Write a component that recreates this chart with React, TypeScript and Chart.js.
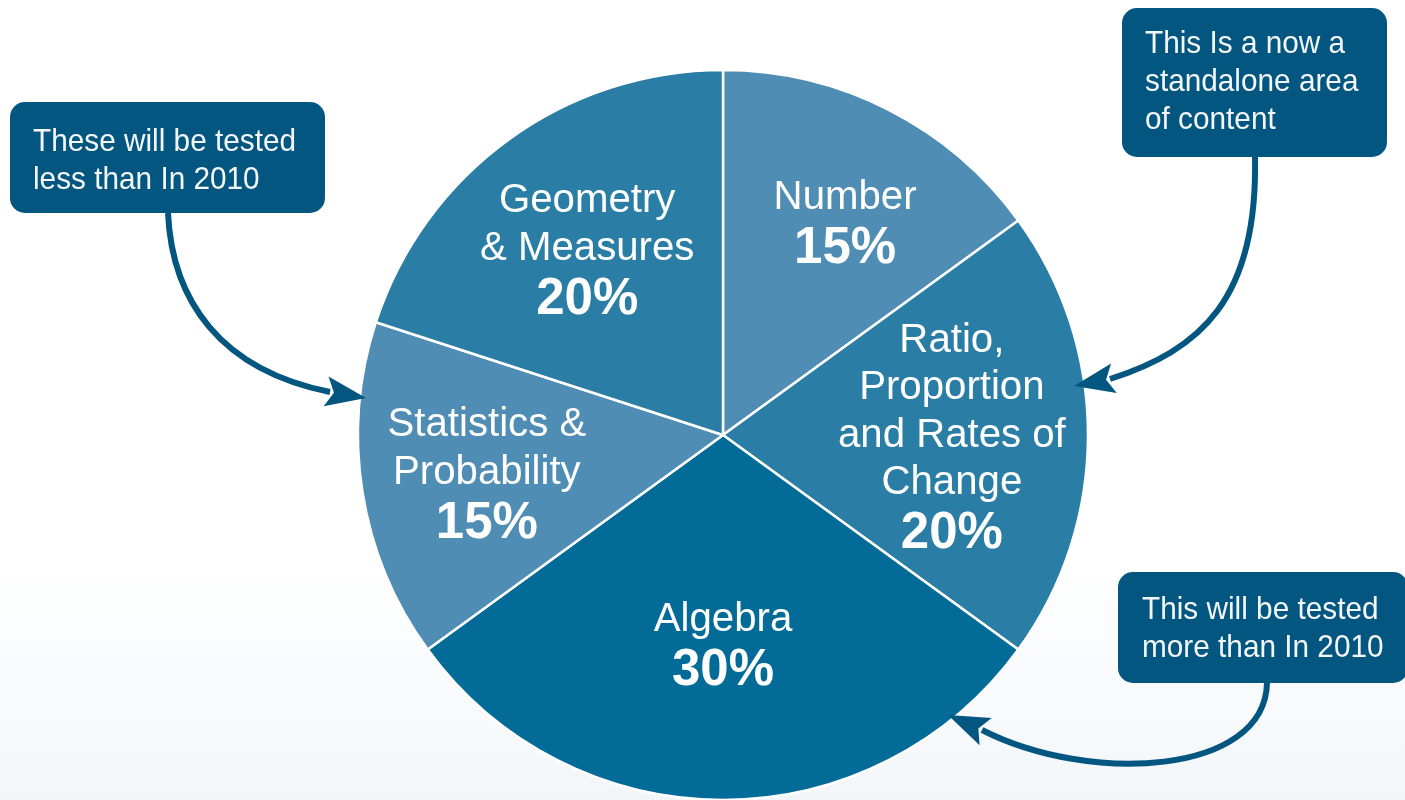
import React, { useEffect, useRef } from "react";
import { Chart, registerables } from "chart.js";

Chart.register(...registerables);

// ---- data ----
const categories = [
  "Number",
  "Ratio, Proportion and Rates of Change",
  "Algebra",
  "Statistics & Probability",
  "Geometry & Measures",
];
const labelLines = [
  ["Number"],
  ["Ratio,", "Proportion", "and Rates of", "Change"],
  ["Algebra"],
  ["Statistics &", "Probability"],
  ["Geometry", "& Measures"],
];
const shares = [15, 20, 30, 15, 20];
const sliceColors = ["#4f8db4", "#2a7ea5", "#036b97", "#4f8db4", "#2a7ea5"];
const calloutTexts = [
  ["These will be tested", "less than In 2010"],
  ["This Is a now a", "standalone area", "of content"],
  ["This will be tested", "more than In 2010"],
];

// ---- layout (styling only) ----
const labelRadius = [0.675, 0.627, 0.57, 0.655, 0.633];
const labelAngleShift = [2.7, 0, 0, 0, 0];
const boxColor = "#03567f";
const calloutBoxes = [
  { x: 10, y: 102, w: 315, h: 111, tx: 33, ty: 151 },
  { x: 1122, y: 8, w: 265, h: 149, tx: 1145, ty: 53 },
  { x: 1118, y: 572, w: 290, h: 111, tx: 1142, ty: 619 },
];
const arrowPaths = [
  { p: [168, 213, 172, 300, 220, 370, 330, 392], tip: [366, 398] },
  { p: [1255, 157, 1258, 300, 1200, 350, 1110, 379], tip: [1074, 386] },
  { p: [1267, 683, 1265, 775, 1090, 785, 982, 730], tip: [948, 715] },
];

function roundRect(ctx: CanvasRenderingContext2D, x: number, y: number, w: number, h: number, r: number) {
  ctx.beginPath();
  ctx.moveTo(x + r, y);
  ctx.lineTo(x + w - r, y);
  ctx.arcTo(x + w, y, x + w, y + r, r);
  ctx.lineTo(x + w, y + h - r);
  ctx.arcTo(x + w, y + h, x + w - r, y + h, r);
  ctx.lineTo(x + r, y + h);
  ctx.arcTo(x, y + h, x, y + h - r, r);
  ctx.lineTo(x, y + r);
  ctx.arcTo(x, y, x + r, y, r);
  ctx.closePath();
}

function drawText(ctx: CanvasRenderingContext2D, text: string, x: number, y: number, font: string, sx: number, align: CanvasTextAlign) {
  ctx.save();
  ctx.translate(x, y);
  ctx.scale(sx, 1);
  ctx.font = font;
  ctx.textAlign = align;
  ctx.textBaseline = "alphabetic";
  ctx.fillText(text, 0, 0);
  ctx.restore();
}

const decorPlugin = {
  id: "decor",
  beforeDraw(chart: any) {
    const ctx: CanvasRenderingContext2D = chart.ctx;
    const g = ctx.createLinearGradient(0, 560, 0, chart.height);
    g.addColorStop(0, "#ffffff");
    g.addColorStop(1, "#f3f6f9");
    ctx.save();
    ctx.fillStyle = g;
    ctx.fillRect(0, 0, chart.width, chart.height);
    ctx.restore();
  },
  afterDatasetsDraw(chart: any) {
    const ctx: CanvasRenderingContext2D = chart.ctx;
    const meta = chart.getDatasetMeta(0);
    const FONT = '"Liberation Sans", Arial, sans-serif';
    ctx.save();
    ctx.fillStyle = "#ffffff";
    meta.data.forEach((arc: any, i: number) => {
      const { x, y, startAngle, endAngle, outerRadius } = arc.getProps(
        ["x", "y", "startAngle", "endAngle", "outerRadius"],
        true
      );
      const mid = (startAngle + endAngle) / 2 + (labelAngleShift[i] * Math.PI) / 180;
      const r = outerRadius * labelRadius[i];
      const cx = x + Math.cos(mid) * r;
      const cy = y + Math.sin(mid) * r;
      const lines = labelLines[i];
      const lh = 47.5;
      const pctGap = 54;
      const cap = 29.5;
      const total = lh * (lines.length - 1) + pctGap;
      const top = cy - (cap + total) / 2;
      let b = top + cap;
      lines.forEach((ln, k) => {
        drawText(ctx, ln, cx, b, `41px ${FONT}`, 0.98, "center");
        if (k < lines.length - 1) b += lh;
      });
      b += pctGap;
      drawText(ctx, `${shares[i]}%`, cx, b, `bold 51px ${FONT}`, 1.0, "center");
    });

    // arrows
    ctx.strokeStyle = boxColor;
    ctx.fillStyle = boxColor;
    ctx.lineWidth = 6;
    ctx.lineCap = "butt";
    arrowPaths.forEach(({ p, tip }) => {
      ctx.beginPath();
      ctx.moveTo(p[0], p[1]);
      ctx.bezierCurveTo(p[2], p[3], p[4], p[5], p[6], p[7]);
      ctx.stroke();
      const bx = p[6], by = p[7];
      const dx = tip[0] - bx, dy = tip[1] - by;
      const len = Math.hypot(dx, dy);
      const nx = -dy / len, ny = dx / len;
      const hw = 15;
      ctx.beginPath();
      ctx.moveTo(tip[0], tip[1]);
      ctx.lineTo(bx + nx * hw - (dx / len) * 4, by + ny * hw - (dy / len) * 4);
      ctx.lineTo(bx + (dx / len) * 4, by + (dy / len) * 4);
      ctx.lineTo(bx - nx * hw - (dx / len) * 4, by - ny * hw - (dy / len) * 4);
      ctx.closePath();
      ctx.fill();
    });

    // callout boxes
    calloutBoxes.forEach((bx, i) => {
      ctx.fillStyle = boxColor;
      roundRect(ctx, bx.x, bx.y, bx.w, bx.h, 15);
      ctx.fill();
      ctx.fillStyle = "#f4f7fa";
      calloutTexts[i].forEach((t, k) => {
        drawText(ctx, t, bx.tx, bx.ty + k * 38, `32px ${FONT}`, 0.93, "left");
      });
    });
    ctx.restore();
  },
};

export default function App() {
  const ref = useRef<HTMLCanvasElement | null>(null);
  useEffect(() => {
    document.body.style.margin = "0";
    if (!ref.current) return;
    const chart = new Chart(ref.current, {
      type: "pie",
      data: {
        labels: categories,
        datasets: [
          {
            data: shares,
            backgroundColor: sliceColors,
            borderColor: "#ffffff",
            borderWidth: 2.5,
          },
        ],
      },
      options: {
        responsive: false,
        animation: false,
        devicePixelRatio: 1,
        radius: 365,
        layout: { padding: { left: 41, right: 0, top: 70, bottom: 0 } },
        plugins: {
          legend: { display: false },
          tooltip: { enabled: false },
        },
      } as any,
      plugins: [decorPlugin as any],
    });
    return () => chart.destroy();
  }, []);
  return (
    <div style={{ width: 1405, height: 800, overflow: "hidden" }}>
      <canvas ref={ref} width={1405} height={800} style={{ display: "block" }} />
    </div>
  );
}
